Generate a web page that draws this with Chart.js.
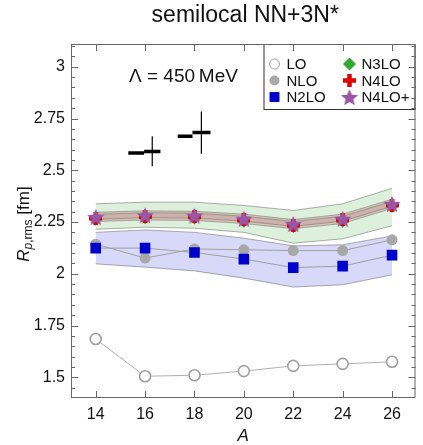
<!DOCTYPE html>
<html>
<head>
<meta charset="utf-8">
<script src="https://cdn.jsdelivr.net/npm/chart.js@4/dist/chart.umd.min.js"></script>
<style>
  html, body { margin: 0; padding: 0; background: #fff; }
</style>
</head>
<body>
<canvas id="chart" width="423" height="445"></canvas>
<script>
// mass numbers
const A = [14, 16, 18, 20, 22, 24, 26];

// central values, R_p,rms [fm]
const LO    = [1.685, 1.505, 1.510, 1.530, 1.555, 1.565, 1.575];
const NLO   = [2.143, 2.076, 2.120, 2.116, 2.112, 2.112, 2.164];
const N2LO  = [2.124, 2.124, 2.103, 2.071, 2.030, 2.037, 2.090];
const N3LO  = [2.263, 2.271, 2.269, 2.254, 2.229, 2.254, 2.326];
const N4LO  = [2.269, 2.277, 2.275, 2.260, 2.235, 2.260, 2.332];
const N4LOp = [2.275, 2.283, 2.281, 2.266, 2.241, 2.266, 2.338];

// truncation error bands
const N2LO_hi  = [2.200, 2.212, 2.200, 2.172, 2.135, 2.140, 2.183];
const N2LO_lo  = [2.048, 2.032, 2.014, 1.979, 1.936, 1.947, 1.995];
const N3LO_hi  = [2.338, 2.346, 2.346, 2.330, 2.306, 2.338, 2.413];
const N3LO_lo  = [2.215, 2.225, 2.220, 2.200, 2.148, 2.169, 2.232];
const N4LO_hi  = [2.297, 2.304, 2.302, 2.288, 2.262, 2.288, 2.360];
const N4LO_lo  = [2.253, 2.260, 2.258, 2.243, 2.218, 2.243, 2.316];
const N4LOp_hi = [2.287, 2.295, 2.293, 2.278, 2.253, 2.278, 2.350];
const N4LOp_lo = [2.263, 2.271, 2.269, 2.254, 2.229, 2.254, 2.326];

// experiment (two horizontal bars per nucleus + error bar)
const expBarA1 = [[15.32, 15.96], [17.32, 17.92]];
const expBarY1 = [2.584, 2.664];
const expBarA2 = [[15.96, 16.62], [17.92, 18.65]];
const expBarY2 = [2.591, 2.683];
const expErrA  = [16.29, 18.28];
const expErrLo = [2.519, 2.580];
const expErrHi = [2.664, 2.784];

// ticks
const xTicks = [14, 16, 18, 20, 22, 24, 26];
const yTicks = [1.5, 1.75, 2, 2.25, 2.5, 2.75, 3];

const pts = ys => A.map((a, i) => ({ x: a, y: ys[i] }));

// marker images
function makeStar(size, color) {
  const c = document.createElement('canvas');
  c.width = c.height = size;
  const g = c.getContext('2d');
  const cx = size / 2, cy = size / 2 + 1, R = size / 2, r = R * 0.45;
  g.beginPath();
  for (let k = 0; k < 10; k++) {
    const rad = k % 2 ? r : R;
    const ang = -Math.PI / 2 + k * Math.PI / 5;
    g.lineTo(cx + rad * Math.cos(ang), cy + rad * Math.sin(ang));
  }
  g.closePath();
  g.fillStyle = color;
  g.fill();
  return c;
}
function makePlus(size, thick, color) {
  const c = document.createElement('canvas');
  c.width = c.height = size;
  const g = c.getContext('2d');
  g.fillStyle = color;
  g.fillRect((size - thick) / 2, 0, thick, size);
  g.fillRect(0, (size - thick) / 2, size, thick);
  return c;
}
const starImg = makeStar(18, 'rgb(155,85,165)');
const plusImg = makePlus(13, 4.5, 'rgb(220,0,0)');

const bandLine = 'rgba(120,120,120,0.6)';
function band(hi, lo, fillColor, order) {
  return [
    { data: pts(hi), fill: '+1', backgroundColor: fillColor, borderColor: bandLine,
      borderWidth: 1, pointRadius: 0, order: order },
    { data: pts(lo), fill: false, borderColor: bandLine, borderWidth: 1,
      pointRadius: 0, order: order }
  ];
}
function seg(x0, x1, y0, y1, w) {
  return { data: [{ x: x0, y: y0 }, { x: x1, y: y1 }], borderColor: '#000',
    borderWidth: w, pointRadius: 0, fill: false, order: 1 };
}

const datasets = [
  ...band(N2LO_hi, N2LO_lo, 'rgba(60,60,220,0.2)', 20),
  ...band(N3LO_hi, N3LO_lo, 'rgba(60,170,60,0.18)', 19),
  ...band(N4LO_hi, N4LO_lo, 'rgba(200,100,90,0.28)', 18),
  ...band(N4LOp_hi, N4LOp_lo, 'rgba(170,80,120,0.2)', 17),
  { data: pts(LO), borderColor: 'rgb(175,175,175)', borderWidth: 1, pointStyle: 'circle',
    pointRadius: 5.5, pointBorderWidth: 1.6, pointBorderColor: 'rgb(160,160,160)',
    pointBackgroundColor: '#fff', fill: false, order: 10 },
  { data: pts(NLO), borderColor: 'rgb(160,160,160)', borderWidth: 1, pointStyle: 'circle',
    pointRadius: 5.5, pointBorderWidth: 0, pointBackgroundColor: 'rgb(168,168,168)',
    fill: false, order: 9 },
  { data: pts(N2LO), borderColor: 'rgb(160,160,160)', borderWidth: 1, pointStyle: 'rect',
    pointRadius: 7.5, pointBorderWidth: 0, pointBackgroundColor: 'rgb(0,0,205)',
    fill: false, order: 8 },
  { data: pts(N3LO), showLine: false, pointStyle: 'rectRot', pointRadius: 6.5,
    pointBorderWidth: 0, pointBackgroundColor: 'rgb(50,170,50)', order: 7 },
  { data: pts(N4LO), showLine: false, pointStyle: plusImg, order: 6 },
  { data: pts(N4LOp), showLine: false, pointStyle: starImg, order: 5 }
];
for (let i = 0; i < expErrA.length; i++) {
  datasets.push(seg(expBarA1[i][0], expBarA1[i][1], expBarY1[i], expBarY1[i], 3.5));
  datasets.push(seg(expBarA2[i][0], expBarA2[i][1], expBarY2[i], expBarY2[i], 3.5));
  datasets.push(seg(expErrA[i], expErrA[i], expErrLo[i], expErrHi[i], 1.2));
}

// legend entries
const legendItems = [
  { label: 'LO',    col: 0, row: 0, style: 'circle',  r: 5,   fill: '#fff', stroke: 'rgb(160,160,160)', bw: 1.4 },
  { label: 'NLO',   col: 0, row: 1, style: 'circle',  r: 5,   fill: 'rgb(168,168,168)', stroke: null, bw: 0 },
  { label: 'N2LO',  col: 0, row: 2, style: 'rect',    r: 7,   fill: 'rgb(0,0,205)', stroke: null, bw: 0 },
  { label: 'N3LO',  col: 1, row: 0, style: 'rectRot', r: 6.5, fill: 'rgb(50,170,50)', stroke: null, bw: 0 },
  { label: 'N4LO',  col: 1, row: 1, style: plusImg,   r: 6,   fill: null, stroke: null, bw: 0 },
  { label: 'N4LO+', col: 1, row: 2, style: starImg,   r: 8,   fill: null, stroke: null, bw: 0 }
];

const FONT = '"Liberation Sans", Arial, sans-serif';

const decorations = {
  id: 'decorations',
  afterDatasetsDraw(chart) {
    const { ctx, chartArea: a, scales: { x, y } } = chart;
    ctx.save();

    // legend box
    const lx0 = a.right - 152, ly0 = a.top, lx1 = a.right, ly1 = a.top + 65;
    ctx.strokeStyle = '#333';
    ctx.lineWidth = 1;
    ctx.strokeRect(lx0 + 0.5, ly0 + 0.5, lx1 - lx0 - 1, ly1 - ly0);
    ctx.font = '15px ' + FONT;
    ctx.textBaseline = 'middle';
    ctx.textAlign = 'left';
    legendItems.forEach(it => {
      const mx = lx0 + 11 + it.col * 75, my = ly0 + 20 + it.row * 16.5;
      ctx.fillStyle = it.fill || '#000';
      ctx.strokeStyle = it.stroke || 'rgba(0,0,0,0)';
      Chart.helpers.drawPoint(ctx, { pointStyle: it.style, radius: it.r, rotation: 0,
        borderWidth: it.bw }, mx, my);
      ctx.fillStyle = '#111';
      ctx.fillText(it.label, mx + 12, my + 1);
    });

    // frame
    ctx.strokeStyle = '#666';
    ctx.lineWidth = 1;
    ctx.strokeRect(a.left + 0.5, a.top + 0.5, a.right - a.left - 1, a.bottom - a.top - 1);

    // y ticks (major + minor), both sides, pointing in
    ctx.beginPath();
    for (let k = 29; k <= 62; k++) {
      const v = k * 0.05;
      const py = Math.round(y.getPixelForValue(v)) + 0.5;
      if (py < a.top || py > a.bottom) continue;
      const major = yTicks.some(t => Math.abs(t - v) < 1e-6);
      const len = major ? 7 : 4;
      ctx.moveTo(a.left, py); ctx.lineTo(a.left + len, py);
      ctx.moveTo(a.right, py); ctx.lineTo(a.right - len, py);
    }
    xTicks.forEach(t => {
      const px = Math.round(x.getPixelForValue(t)) + 0.5;
      ctx.moveTo(px, a.bottom); ctx.lineTo(px, a.bottom - 7);
      ctx.moveTo(px, a.top); ctx.lineTo(px, a.top + 7);
    });
    ctx.stroke();

    // texts
    ctx.fillStyle = '#111';
    ctx.textAlign = 'center';
    ctx.font = '23px ' + FONT;
    ctx.fillText('semilocal NN+3N*', (a.left + a.right) / 2 + 2, 16);

    ctx.textAlign = 'left';
    ctx.font = '19px ' + FONT;
    ctx.fillText('\u039B = 450\u2009MeV', 129, 77);

    ctx.textAlign = 'center';
    ctx.font = 'italic 17px ' + FONT;
    ctx.fillText('A', (a.left + a.right) / 2, 436);

    // y title with subscript, rotated
    ctx.translate(24, 224);
    ctx.rotate(-Math.PI / 2);
    const parts = [
      { t: 'R', f: 'italic 17px ' + FONT, dy: 0 },
      { t: 'p', f: 'italic 12px ' + FONT, dy: 5 },
      { t: ',rms', f: '12px ' + FONT, dy: 5 },
      { t: ' [fm]', f: '17px ' + FONT, dy: 0 }
    ];
    let w = 0;
    parts.forEach(p => { ctx.font = p.f; w += ctx.measureText(p.t).width; });
    let cx = -w / 2;
    ctx.textAlign = 'left';
    parts.forEach(p => {
      ctx.font = p.f;
      ctx.fillText(p.t, cx, p.dy);
      cx += ctx.measureText(p.t).width;
    });
    ctx.restore();
  }
};

new Chart(document.getElementById('chart'), {
  type: 'line',
  data: { datasets },
  options: {
    responsive: false,
    devicePixelRatio: 1,
    animation: false,
    layout: { padding: { top: 44, right: 2, left: 0, bottom: 0 } },
    plugins: { legend: { display: false }, tooltip: { enabled: false } },
    elements: { line: { tension: 0 } },
    scales: {
      x: {
        type: 'linear', min: 13, max: 26.95,
        grid: { display: false, drawTicks: false },
        border: { display: false },
        afterBuildTicks: ax => { ax.ticks = xTicks.map(v => ({ value: v })); },
        afterFit: ax => { ax.height = 47; },
        ticks: { padding: 7, color: '#111', font: { family: FONT, size: 16 },
                 maxRotation: 0, autoSkip: false }
      },
      y: {
        type: 'linear', min: 1.40, max: 3.11,
        grid: { display: false, drawTicks: false },
        border: { display: false },
        afterBuildTicks: ax => { ax.ticks = yTicks.map(v => ({ value: v })); },
        afterFit: ax => { ax.width = 71; },
        ticks: { padding: 6, color: '#111', font: { family: FONT, size: 16 },
                 callback: v => String(v) }
      }
    }
  },
  plugins: [decorations]
});
</script>
</body>
</html>
